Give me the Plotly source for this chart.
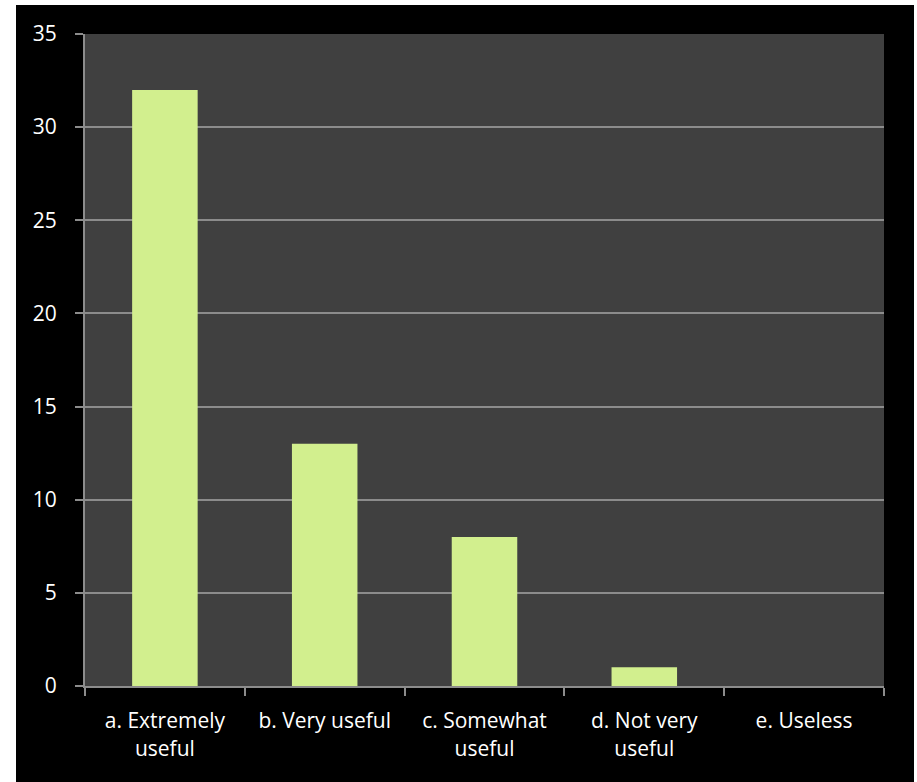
import plotly.graph_objects as go

categories = ["a. Extremely<br>useful", "b. Very useful", "c. Somewhat<br>useful",
              "d. Not very<br>useful", "e. Useless"]
values = [32, 13, 8, 1, 0]
y_ticks = [0, 5, 10, 15, 20, 25, 30, 35]

W, H = 917, 782
L, R, T, B = 85, 33, 34, 96
pw, ph = W - L - R, H - T - B

fig = go.Figure()
fig.add_trace(go.Bar(
    x=categories, y=values, width=0.41,
    marker=dict(color="#d2ef8e", line=dict(color="#a6cc55", width=0)),
    hoverinfo="x+y",
))

def px(x):
    return (x - L) / pw

def py(y):
    return (H - B - y) / ph

fig.update_layout(
    width=W, height=H,
    margin=dict(l=L, r=R, t=T, b=B, pad=0),
    paper_bgcolor="white",
    plot_bgcolor="#404040",
    showlegend=False,
    font=dict(family="Open Sans", size=21, color="white"),
    shapes=[
        dict(type="rect", xref="paper", yref="paper",
             x0=px(16), x1=px(914), y0=py(782), y1=py(5),
             fillcolor="black", line=dict(width=0), layer="below"),
        dict(type="rect", xref="paper", yref="paper",
             x0=0, x1=1, y0=0, y1=1,
             fillcolor="#404040", line=dict(width=0), layer="below"),
    ],
)
fig.update_xaxes(
    showgrid=False, showline=True, linecolor="#8c8c8c", linewidth=2,
    ticks="outside", tickson="boundaries", ticklen=8, tickcolor="#8c8c8c",
    tickwidth=2, tickfont=dict(size=21, color="white"), range=[-0.5, 4.5],
    ticklabelstandoff=15,
)
fig.update_yaxes(
    range=[0, 35], tickvals=y_ticks, showgrid=True, gridcolor="#8c8c8c",
    gridwidth=1.5, showline=True, linecolor="#8c8c8c", linewidth=2,
    ticks="outside", ticklen=8, tickcolor="#8c8c8c", tickwidth=2,
    tickfont=dict(size=21, color="white"), zeroline=False,
    ticklabelstandoff=14,
)
fig.write_html("out.html", config={"displayModeBar": False},
               post_script="document.body.style.margin='0';")
